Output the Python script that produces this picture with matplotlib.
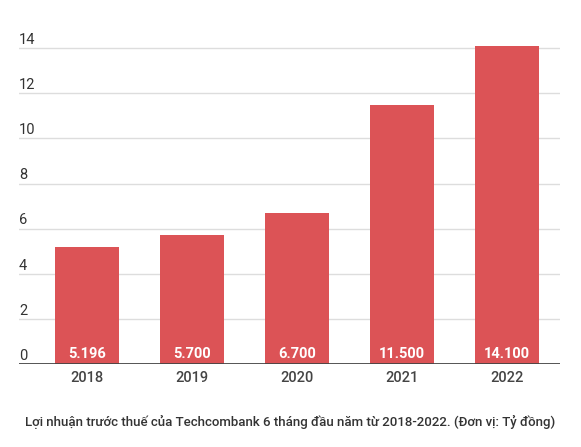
import matplotlib.pyplot as plt
import matplotlib.transforms as mtransforms

years = ["2018", "2019", "2020", "2021", "2022"]
profit = [5.196, 5.7, 6.7, 11.5, 14.1]
bar_labels = ["5.196", "5.700", "6.700", "11.500", "14.100"]
yticks = [0, 2, 4, 6, 8, 10, 12, 14]
caption = "Lợi nhuận trước thuế của Techcombank 6 tháng đầu năm từ 2018-2022. (Đơn vị: Tỷ đồng)"

plt.rcParams['font.family'] = ['Roboto', 'DejaVu Sans']

fig = plt.figure(figsize=(5.81, 4.47), dpi=100)
ax = fig.add_axes([19/581, 83/447, 541/581, 361/447])

x = list(range(len(years)))
ax.bar(x, profit, width=0.61, color="#dc5356", zorder=2)

ax.set_xlim(-0.648, 4.505)
ax.set_ylim(0, 16.0)

# gridlines
for v in yticks[1:]:
    ax.axhline(v, color="#dddddd", lw=1, zorder=1)
ax.axhline(0, color="#444444", lw=2, zorder=3)

# y labels sitting above gridlines
trans = mtransforms.blended_transform_factory(ax.transAxes, ax.transData)
for v in yticks:
    ax.annotate(str(v), xy=(0, v), xycoords=trans, xytext=(0, 3),
                textcoords="offset points", ha="left", va="baseline",
                fontsize=10.5, color="#333333")

# values inside bars
for xi, lab in zip(x, bar_labels):
    ax.annotate(lab, xy=(xi, 0), xytext=(0, 4.5), textcoords="offset points",
                ha="center", va="baseline", fontsize=10.5,
                fontweight="bold", color="white", zorder=4)

ax.set_xticks(x)
ax.set_xticklabels(years, fontsize=10.5, color="#444444", fontweight="medium")
ax.tick_params(axis="x", length=0, pad=5)
ax.set_yticks([])
for s in ax.spines.values():
    s.set_visible(False)

fig.text(290/581, 1 - 422/447, caption, ha="center", va="center",
         fontsize=9.5, color="#333333", fontweight="medium")

fig.savefig("out.png", dpi=100)
